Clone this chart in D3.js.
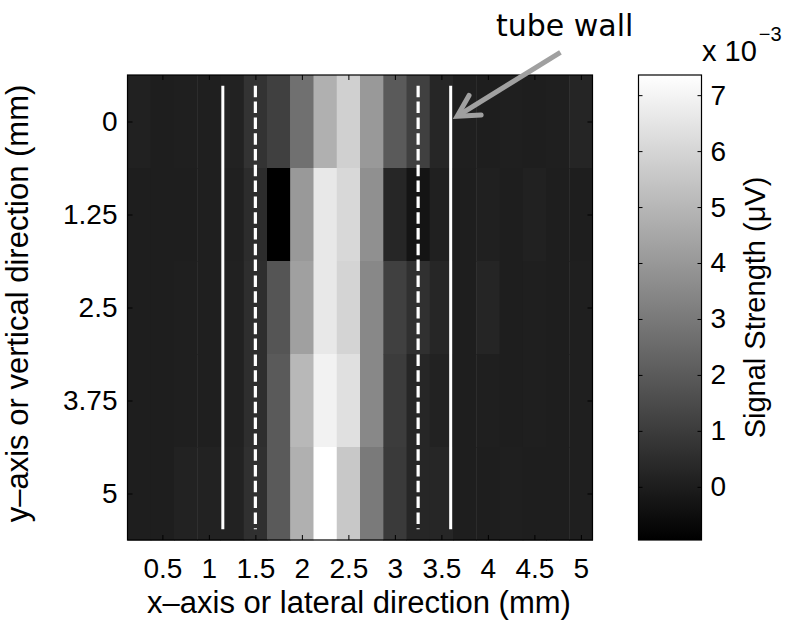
<!DOCTYPE html>
<html>
<head>
<meta charset="utf-8">
<script src="https://cdn.jsdelivr.net/npm/d3@7/dist/d3.min.js"></script>
<style>
  html, body { margin: 0; padding: 0; background: #fff; }
  svg text { font-family: "Liberation Sans", Arial, Helvetica, sans-serif; fill: #000; }
</style>
</head>
<body>
<svg id="chart" width="789" height="631"></svg>
<script>
// ---- data (signal strength, units of 1e-3 µV) ----
const xCenters = [0.25, 0.5, 0.75, 1.0, 1.25, 1.5, 1.75, 2.0, 2.25, 2.5,
                  2.75, 3.0, 3.25, 3.5, 3.75, 4.0, 4.25, 4.5, 4.75, 5.0];
const yCenters = [0, 1.25, 2.5, 3.75, 5];
const xTickValues = [0.5, 1, 1.5, 2, 2.5, 3, 3.5, 4, 4.5, 5];
const xTickLabels = ["0.5", "1", "1.5", "2", "2.5", "3", "3.5", "4", "4.5", "5"];
const yTickLabels = ["0", "1.25", "2.5", "3.75", "5"];
const row0   = [0.14, 0.03, 0.06, 0.06, 0.16, 0.71, 1.14, 2.70, 4.79, 5.83, 4.04, 1.98, 1.14, 0.29, 0.06, 0.03, 0.06, 0.03, 0.06, 0.26];
const row125 = [0.03, 0.03, 0.03, 0.06, 0.09, 0.48, -0.95, 4.04, 6.61, 6.09, 3.74, 0.29, -0.30, 0.09, 0.03, 0.09, 0.03, 0.14, 0.03, 0.03];
const row250 = [0.03, 0.03, 0.06, 0.06, 0.14, 0.55, 1.82, 4.26, 6.61, 5.96, 3.48, 1.14, 0.61, 0.29, 0.03, 0.26, 0.03, 0.06, 0.03, 0.06];
const row375 = [0.03, 0.03, 0.06, 0.06, 0.14, 0.55, 1.98, 5.05, 6.94, 6.35, 3.48, 1.01, 0.29, 0.16, 0.03, 0.06, 0.03, 0.06, 0.03, 0.06];
const row500 = [0.03, 0.03, 0.16, 0.16, 0.16, 0.61, 1.98, 4.79, 7.36, 5.57, 3.03, 0.94, 0.29, 0.29, 0.03, 0.03, 0.06, 0.03, 0.03, 0.06];
const rows = [row0, row125, row250, row375, row500];
const colorTicks = [0, 1, 2, 3, 4, 5, 6, 7];
const colorMin = -0.95, colorMax = 7.36;
const wallLines = [1.15, 3.6];      // solid white (tube wall)
const innerLines = [1.5, 3.25];     // dashed white
const arrowTail = [4.78, -0.93];    // annotation arrow, data coords (mm)
const arrowTip = [3.67, -0.07];
const xLabel = "x\u2013axis or lateral direction (mm)";
const yLabel = "y\u2013axis or vertical direction (mm)";
const cLabel = "Signal Strength (\u03BCV)";
const annotation = "tube wall";

// ---- layout ----
const svg = d3.select("#chart");
const plot = { left: 127.5, right: 592.5, top: 75, bottom: 540 };
const cbar = { left: 638.5, right: 701.5 };
const FS = 28;

const x = d3.scaleLinear().domain([0.125, 5.125]).range([plot.left, plot.right]);
const y = d3.scaleLinear().domain([-0.625, 5.625]).range([plot.top, plot.bottom]);
const color = d3.scaleLinear().domain([colorMin, colorMax]).range(["#000000", "#ffffff"]).clamp(true);
const cY = d3.scaleLinear().domain([colorMin, colorMax]).range([plot.bottom, plot.top]);

const cells = [];
rows.forEach((r, i) => r.forEach((v, j) => cells.push({ xc: xCenters[j], yc: yCenters[i], v })));

svg.append("g").selectAll("rect").data(cells).join("rect")
  .attr("x", d => x(d.xc - 0.125))
  .attr("y", d => y(d.yc - 0.625))
  .attr("width", d => x(d.xc + 0.125) - x(d.xc - 0.125) + 0.5)
  .attr("height", d => y(d.yc + 0.625) - y(d.yc - 0.625) + 0.5)
  .attr("fill", d => color(d.v));

// white guide lines
const yTop = -0.48, yBot = 5.48;
svg.append("g").selectAll("line").data(wallLines).join("line")
  .attr("x1", d => x(d)).attr("x2", d => x(d))
  .attr("y1", y(yTop)).attr("y2", y(yBot))
  .attr("stroke", "#fff").attr("stroke-width", 3);
svg.append("g").selectAll("line").data(innerLines).join("line")
  .attr("x1", d => x(d)).attr("x2", d => x(d))
  .attr("y1", y(yTop)).attr("y2", y(yBot))
  .attr("stroke", "#fff").attr("stroke-width", 3.2)
  .attr("stroke-dasharray", "11.5,4.3");

// axes
function styleAxis(g, showText) {
  g.select(".domain").remove();
  g.selectAll(".tick line").attr("stroke", "#000").attr("stroke-width", 1);
  g.selectAll(".tick text").style("font-size", FS + "px").attr("fill", "#000");
  if (!showText) g.selectAll(".tick text").remove();
}
svg.append("g").attr("transform", `translate(0,${plot.bottom})`)
  .call(d3.axisBottom(x).tickValues(xTickValues).tickFormat((d, i) => xTickLabels[i]).tickSize(-5).tickPadding(18))
  .call(g => styleAxis(g, true));
svg.append("g").attr("transform", `translate(0,${plot.top})`)
  .call(d3.axisTop(x).tickValues(xTickValues).tickSize(-5))
  .call(g => styleAxis(g, false));
svg.append("g").attr("transform", `translate(${plot.left},0)`)
  .call(d3.axisLeft(y).tickValues(yCenters).tickFormat((d, i) => yTickLabels[i]).tickSize(-5).tickPadding(10))
  .call(g => styleAxis(g, true));
svg.append("g").attr("transform", `translate(${plot.right},0)`)
  .call(d3.axisRight(y).tickValues(yCenters).tickSize(-5))
  .call(g => styleAxis(g, false));

svg.append("rect")
  .attr("x", plot.left).attr("y", plot.top)
  .attr("width", plot.right - plot.left).attr("height", plot.bottom - plot.top)
  .attr("fill", "none").attr("stroke", "#000").attr("stroke-width", 1.2);

// axis labels
svg.append("text").attr("x", (plot.left + plot.right) / 2 - 1).attr("y", 613)
  .attr("text-anchor", "middle").style("font-size", "31px").text(xLabel);
svg.append("text").attr("transform", `translate(28,${(plot.top + plot.bottom) / 2 - 4}) rotate(-90)`)
  .attr("text-anchor", "middle").style("font-size", "31px").text(yLabel);

// colorbar
const defs = svg.append("defs");
const grad = defs.append("linearGradient").attr("id", "gray").attr("x1", 0).attr("y1", 1).attr("x2", 0).attr("y2", 0);
grad.append("stop").attr("offset", "0%").attr("stop-color", "#000");
grad.append("stop").attr("offset", "100%").attr("stop-color", "#fff");
svg.append("rect").attr("x", cbar.left).attr("y", plot.top)
  .attr("width", cbar.right - cbar.left).attr("height", plot.bottom - plot.top)
  .attr("fill", "url(#gray)");
svg.append("g").attr("transform", `translate(${cbar.right},0)`)
  .call(d3.axisRight(cY).tickValues(colorTicks).tickSize(-4).tickPadding(9))
  .call(g => styleAxis(g, true));
svg.append("g").attr("transform", `translate(${cbar.left},0)`)
  .call(d3.axisLeft(cY).tickValues(colorTicks).tickSize(-4))
  .call(g => styleAxis(g, false));
svg.append("rect").attr("x", cbar.left).attr("y", plot.top)
  .attr("width", cbar.right - cbar.left).attr("height", plot.bottom - plot.top)
  .attr("fill", "none").attr("stroke", "#000").attr("stroke-width", 1.2);

// exponent
const ex = svg.append("text").attr("x", 702).attr("y", 61).style("font-size", "29px");
ex.append("tspan").text("x 10");
ex.append("tspan").attr("dy", -20).attr("dx", 2).style("font-size", "20px").text("\u22123");

// colorbar label
svg.append("text").attr("transform", `translate(765,${(plot.top + plot.bottom) / 2}) rotate(-90)`)
  .attr("text-anchor", "middle").style("font-size", "29px").text(cLabel);

// annotation
svg.append("text").attr("x", 496).attr("y", 36)
  .style("font-family", "'DejaVu Sans', sans-serif").style("font-size", "30px").text(annotation);
const tip = [x(arrowTip[0]), y(arrowTip[1])];
const tail = [x(arrowTail[0]), y(arrowTail[1])];
const ang = Math.atan2(tail[1] - tip[1], tail[0] - tip[0]);
const hl = 24, ha = 0.5;
const p1 = [tip[0] + hl * Math.cos(ang - ha), tip[1] + hl * Math.sin(ang - ha)];
const p2 = [tip[0] + hl * Math.cos(ang + ha), tip[1] + hl * Math.sin(ang + ha)];
svg.append("path")
  .attr("d", `M${tail[0]},${tail[1]}L${tip[0] + 2 * Math.cos(ang)},${tip[1] + 2 * Math.sin(ang)}`)
  .attr("stroke", "#a0a0a0").attr("stroke-width", 5).attr("fill", "none");
svg.append("path")
  .attr("d", `M${p1[0]},${p1[1]}L${tip[0]},${tip[1]}L${p2[0]},${p2[1]}`)
  .attr("stroke", "#a0a0a0").attr("stroke-width", 5).attr("fill", "none")
  .attr("stroke-linejoin", "miter").attr("stroke-linecap", "round");
</script>
</body>
</html>
